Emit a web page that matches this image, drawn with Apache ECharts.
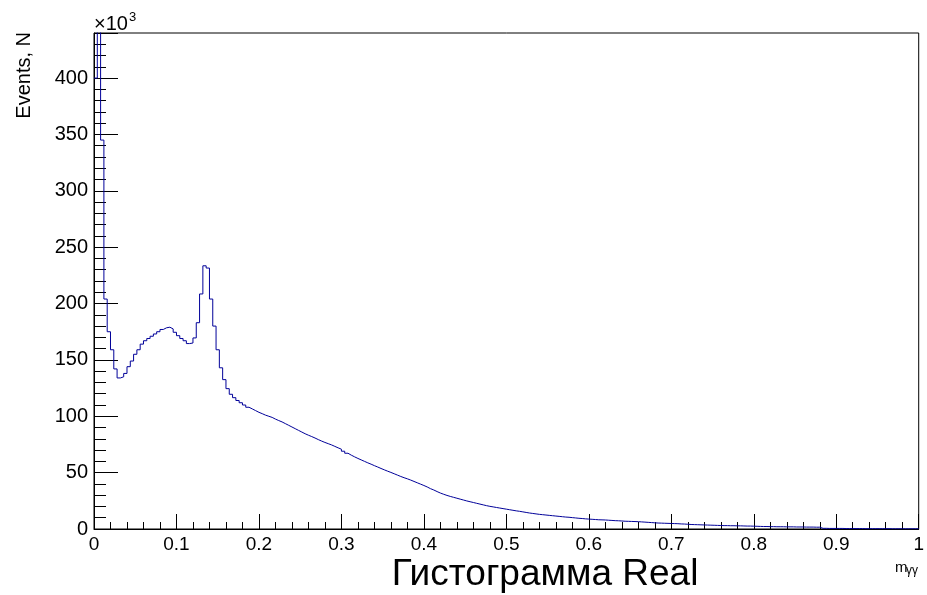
<!DOCTYPE html>
<html>
<head>
<meta charset="utf-8">
<script src="https://cdn.jsdelivr.net/npm/echarts/dist/echarts.min.js"></script>
<style>
  html, body { margin: 0; padding: 0; background: #fff; }
  #main { width: 927px; height: 595px; }
</style>
</head>
<body>
<div id="main"></div>
<script>
// histogram m_gg, 250 bins in [0, 1], counts in units of 10^3
var xMin = 0;
var xMax = 1;
var binCount = 250;

var counts = [
    400, 470, 345, 204, 175, 159, 142, 134, 135, 138,
    144, 149, 155, 159, 164, 167, 169, 171, 173, 175,
    177, 178.5, 179, 177.5, 174.5, 171.5, 169, 167, 164.5, 165,
    169.5, 183, 208.5, 233.5, 231.5, 204, 180, 159, 143, 132.5,
    124.5, 119.5, 116.5, 114, 112, 110, 108, 106.5, 105, 103.5,
    102.3, 101, 100, 99, 97.5, 96.2, 95, 93.5, 92, 90.5,
    89, 87.5, 86, 84.5, 83.2, 82, 80.7, 79.3, 78, 76.8,
    75.7, 74.6, 73.3, 72, 70.8, 69, 67.2, 65.5, 64, 62.6,
    61.3, 60, 58.7, 57.5, 56.2, 55, 53.7, 52.5, 51.3, 50.2,
    49, 47.8, 46.6, 45.5, 44.5, 43.4, 42.2, 41, 39.8, 38.6,
    37.3, 35.8, 34.6, 33.2, 31.9, 30.8, 29.8, 28.9, 28.1, 27.3,
    26.5, 25.7, 24.9, 24.2, 23.5, 22.8, 22.1, 21.4, 20.7, 20.1,
    19.6, 19.1, 18.6, 18.1, 17.6, 17.1, 16.6, 16.1, 15.7, 15.2,
    14.7, 14.2, 13.8, 13.4, 13, 12.7, 12.4, 12.1, 11.8, 11.5,
    11.2, 10.9, 10.6, 10.4, 10.1, 9.8, 9.5, 9.3, 9.0, 8.8,
    8.6, 8.4, 8.2, 8.1, 8.0, 7.8, 7.6, 7.4, 7.3, 7.1,
    6.9, 6.8, 6.7, 6.6, 6.5, 6.3, 6.1, 5.9, 5.7, 5.5,
    5.3, 5.2, 5.1, 5.0, 4.9, 4.8, 4.7, 4.5, 4.4, 4.2,
    4.0, 3.9, 3.8, 3.7, 3.6, 3.5, 3.4, 3.3, 3.2, 3.1,
    3.0, 3.0, 2.9, 2.9, 2.8, 2.8, 2.7, 2.6, 2.6, 2.5,
    2.4, 2.3, 2.2, 2.2, 2.1, 2.1, 2.0, 2.0, 2.0, 1.9,
    1.9, 1.9, 1.8, 1.8, 1.8, 1.7, 1.7, 1.7, 1.6, 1.6,
    0.6, 0.6, 0.5, 0.5, 0.5, 0.5, 0.5, 0.4, 0.4, 0.4,
    0.4, 0.4, 0.4, 0.3, 0.3, 0.3, 0.3, 0.3, 0.3, 0.3,
    0.3, 0.2, 0.2, 0.2, 0.2, 0.2, 0.2, 0.2, 0.2, 0.2
];

var chartTitle = 'Гистограмма Real';
var yTitle = 'Events, N';

// step line: each point is a bin's left edge, last point closes the last bin
var binWidth = (xMax - xMin) / binCount;
var histData = [];
for (var i = 0; i < counts.length; i++) {
    histData.push([xMin + i * binWidth, counts[i]]);
}
histData.push([xMax, counts[counts.length - 1]]);

var font = "'Liberation Sans', Arial, Helvetica, sans-serif";

function txt(x, y, text, size, align, vAlign, extra) {
    var el = {
        type: 'text', x: x, y: y,
        style: {
            text: text, fontSize: size, fontFamily: font, fill: '#000',
            textAlign: align, align: align,
            textVerticalAlign: vAlign, verticalAlign: vAlign
        }
    };
    if (extra) { for (var k in extra) el[k] = extra[k]; }
    return el;
}

var option = {
    animation: false,
    backgroundColor: '#fff',
    grid: {
        left: 94, right: 4, top: 33, bottom: 66,
        show: true,
        borderColor: '#000',
        borderWidth: 1,
        backgroundColor: 'transparent'
    },
    xAxis: {
        type: 'value',
        min: xMin,
        max: xMax,
        interval: 0.1,
        axisLine: { lineStyle: { color: '#000', width: 1 } },
        axisTick: { inside: true, length: 15, lineStyle: { color: '#000' } },
        minorTick: { show: true, splitNumber: 5, length: 7, lineStyle: { color: '#000' } },
        splitLine: { show: false },
        axisLabel: { color: '#000', fontFamily: font, fontSize: 19, margin: 6 }
    },
    yAxis: {
        type: 'value',
        min: 0,
        max: 440,
        interval: 50,
        axisLine: { show: true, lineStyle: { color: '#000', width: 1 } },
        axisTick: { show: true, inside: true, length: 24, lineStyle: { color: '#000' } },
        minorTick: { show: true, splitNumber: 5, length: 12, lineStyle: { color: '#000' } },
        splitLine: { show: false },
        axisLabel: { color: '#000', fontFamily: font, fontSize: 20, margin: 6, showMaxLabel: false }
    },
    series: [{
        type: 'line',
        step: 'end',
        data: histData,
        showSymbol: false,
        clip: true,
        lineStyle: { color: '#000099', width: 1 }
    }],
    graphic: [
        txt(94, 34, '×10', 20, 'left', 'bottom'),
        txt(129, 11, '3', 13, 'left', 'top'),
        txt(24, 32, yTitle, 20, 'right', 'middle', { rotation: Math.PI / 2 }),
        txt(895, 575, 'm', 15, 'left', 'bottom'),
        txt(906, 565, 'γγ', 12, 'left', 'top'),
        txt(545, 575, chartTitle, 37, 'center', 'middle')
    ]
};

var chart = echarts.init(document.getElementById('main'), null, { renderer: 'canvas' });
chart.setOption(option);
</script>
</body>
</html>
